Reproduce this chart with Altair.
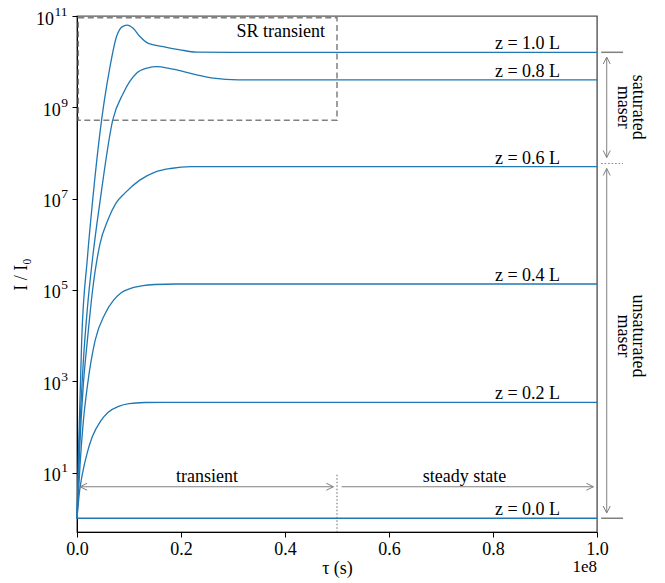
import altair as alt
import pandas as pd

FONT = "Liberation Serif"
BLUE = "#1f77b4"
GRAY = "#808080"

# ---- curves: tau in units of 1e8 s, log10(I / I0) ----
z_names = ["z = 0.0 L", "z = 0.2 L", "z = 0.4 L", "z = 0.6 L", "z = 0.8 L", "z = 1.0 L"]

tau_z00 = [0.0, 1.0]
log_z00 = [0.0, 0.0]

tau_z02 = [0.0, 0.005, 0.01, 0.02, 0.03, 0.045, 0.06, 0.08, 0.1, 0.13, 0.17, 1.0]
log_z02 = [0.0, 0.6, 0.95, 1.45, 1.8, 2.12, 2.32, 2.45, 2.51, 2.535, 2.54, 2.54]

tau_z04 = [0.0, 0.006, 0.012, 0.02, 0.035, 0.054, 0.07, 0.085, 0.102, 0.124, 0.15, 0.19, 1.0]
log_z04 = [0.0, 1.2, 2.1, 2.9, 3.9, 4.48, 4.77, 4.94, 5.03, 5.09, 5.12, 5.13, 5.13]

tau_z06 = [0.0, 0.005, 0.012, 0.02, 0.03, 0.044, 0.06, 0.075, 0.092, 0.12, 0.15, 0.18, 0.22, 1.0]
log_z06 = [0.0, 1.5, 2.9, 3.9, 5.0, 6.0, 6.55, 6.9, 7.12, 7.4, 7.58, 7.66, 7.7, 7.7]

tau_z08 = [0.0, 0.005, 0.012, 0.02, 0.03, 0.045, 0.0687, 0.089, 0.115, 0.135, 0.154,
           0.175, 0.192, 0.23, 0.262, 0.31, 1.0]
log_z08 = [0.0, 1.8, 3.4, 4.6, 5.7, 7.0, 8.72, 9.31, 9.75, 9.86, 9.89,
           9.86, 9.82, 9.71, 9.64, 9.60, 9.60]

tau_z10 = [0.0, 0.003, 0.009, 0.02, 0.03, 0.044, 0.0635, 0.076, 0.089, 0.097, 0.108,
           0.121, 0.137, 0.166, 0.198, 0.23, 0.3, 1.0]
log_z10 = [0.0, 1.5, 3.9, 5.7, 6.95, 8.43, 9.89, 10.55, 10.78, 10.80, 10.73,
           10.55, 10.40, 10.33, 10.26, 10.21, 10.205, 10.205]

plateau_log = [0.0, 2.54, 5.13, 7.70, 9.60, 10.205]

x_ticks = [0.0, 0.2, 0.4, 0.6, 0.8, 1.0]
y_ticks = [1e1, 1e3, 1e5, 1e7, 1e9, 1e11]
y_tick_exponents = ["1", "3", "5", "7", "9", "11"]

taus = [tau_z00, tau_z02, tau_z04, tau_z06, tau_z08, tau_z10]
logs = [log_z00, log_z02, log_z04, log_z06, log_z08, log_z10]

rows = []
for name, ts, ls in zip(z_names, taus, logs):
    for t, l in zip(ts, ls):
        rows.append({"z": name, "tau": t, "I": 10 ** l})
curves = pd.DataFrame(rows)

zlab = pd.DataFrame({"x": [0.929] * 6, "y": [10 ** p for p in plateau_log], "t": z_names})

xs = alt.Scale(domain=[0, 1], nice=False, zero=False)
ys = alt.Scale(type="log", domain=[0.5, 1e11], nice=False)

xaxis = alt.Axis(
    values=x_ticks, format=".1f", title="τ (s)", tickSize=5, labelPadding=3,
    titleY=36, titleBaseline="middle", grid=False, labelFlush=False,
    domainColor="black", tickColor="black", labelColor="black", titleColor="black",
    labelFontSize=18, titleFontSize=18, labelFont=FONT, titleFont=FONT,
    titleFontWeight="normal")
yaxis = alt.Axis(
    values=y_ticks, labels=False, title="I / I₀", tickSize=5,
    titleAngle=-90, titleX=-56, titleY=258, titleAlign="center", titleBaseline="middle",
    grid=False, domainColor="black", tickColor="black",
    titleColor="black", titleFontSize=18, titleFont=FONT, titleFontWeight="normal")


def X(f):
    return alt.X(f, scale=xs, axis=xaxis)


def Y(f):
    return alt.Y(f, scale=ys, axis=yaxis)


lines = alt.Chart(curves).mark_line(interpolate="monotone", color=BLUE, strokeWidth=1.3).encode(
    x=X("tau:Q"), y=Y("I:Q"), detail="z:N")

# y tick labels: "10" with a raised exponent
ylab_layers = []
EXP_SIZE = 13.5
for n in (1, 2):
    sub = pd.DataFrame({"v": [v for v, e in zip(y_ticks, y_tick_exponents) if len(e) == n],
                        "e": [e for e in y_tick_exponents if len(e) == n]})
    ex = -9 - 0.5 * EXP_SIZE * n
    ylab_layers.append(alt.Chart(sub).mark_text(
        align="right", baseline="alphabetic", dy=8.5, font=FONT, fontSize=18,
        color="black", text="10").encode(x=alt.value(ex - 0.5), y=Y("v:Q")))
    ylab_layers.append(alt.Chart(sub).mark_text(
        align="left", baseline="alphabetic", dy=-0.5, font=FONT, fontSize=EXP_SIZE,
        color="black").encode(x=alt.value(ex), y=Y("v:Q"), text="e:N"))

zlabels = alt.Chart(zlab).mark_text(align="right", baseline="alphabetic", dy=-3,
                                     font=FONT, fontSize=18, color="black").encode(
    x=X("x:Q"), y=Y("y:Q"), text="t:N")

# SR transient box
box = pd.DataFrame({"x": [0.0025], "x2": [0.5], "y": [5.2e8], "y2": [9.2e10]})
boxl = alt.Chart(box).mark_rect(fillOpacity=0, stroke=GRAY, strokeWidth=1.5,
                                strokeDash=[6, 3.5]).encode(
    x=X("x:Q"), x2="x2:Q", y=Y("y:Q"), y2="y2:Q")
srt = pd.DataFrame({"x": [0.477], "y": [3.5e10], "t": ["SR transient"]})
srl = alt.Chart(srt).mark_text(align="right", baseline="alphabetic", font=FONT,
                               fontSize=18, color="black").encode(
    x=X("x:Q"), y=Y("y:Q"), text="t:N")

# arrows (shafts)
arrow_y = 10 ** 0.69
arr_x = 1.0187
shafts = pd.DataFrame({
    "x1": [0.006, 0.509, arr_x, arr_x],
    "x2": [0.493, 0.993, arr_x, arr_x],
    "y1": [arrow_y, arrow_y, 10 ** 10.10, 10 ** 7.66],
    "y2": [arrow_y, arrow_y, 10 ** 7.90, 10 ** 0.115],
})
shaftl = alt.Chart(shafts).mark_rule(color=GRAY, strokeWidth=1).encode(
    x=X("x1:Q"), x2="x2:Q", y=Y("y1:Q"), y2="y2:Q")

LEFT = "M1,-0.5L0,0L1,0.5"
RIGHT = "M-1,-0.5L0,0L-1,0.5"
UP = "M-0.5,1L0,0L0.5,1"
DOWN = "M-0.5,-1L0,0L0.5,-1"
heads = pd.DataFrame({
    "x": [0.006, 0.493, 0.993, arr_x, arr_x, arr_x, arr_x],
    "y": [arrow_y, arrow_y, arrow_y, 10 ** 10.10, 10 ** 7.90, 10 ** 7.66, 10 ** 0.115],
    "s": [LEFT, RIGHT, RIGHT, UP, DOWN, UP, DOWN],
})
headl = alt.Chart(heads).mark_point(filled=False, size=196, stroke=GRAY, strokeWidth=1,
                                     opacity=1).encode(
    x=X("x:Q"), y=Y("y:Q"), shape=alt.Shape("s:N", scale=None))

# dotted separator at tau = 0.5
sep = pd.DataFrame({"x": [0.5], "y": [9.0], "y2": [0.5]})
sepl = alt.Chart(sep).mark_rule(color=GRAY, strokeWidth=1.2, strokeDash=[1.5, 2]).encode(
    x=X("x:Q"), y=Y("y:Q"), y2="y2:Q")

# right-side level markers
marks_solid = pd.DataFrame({"x": [1.008, 1.008], "x2": [1.05, 1.05], "y": [10 ** 10.205, 1.0]})
solidl = alt.Chart(marks_solid).mark_rule(color=GRAY, strokeWidth=1.5).encode(
    x=X("x:Q"), x2="x2:Q", y=Y("y:Q"))
marks_dot = pd.DataFrame({"x": [1.008], "x2": [1.05], "y": [10 ** 7.77]})
dotl = alt.Chart(marks_dot).mark_rule(color=GRAY, strokeWidth=1.2, strokeDash=[1.5, 2]).encode(
    x=X("x:Q"), x2="x2:Q", y=Y("y:Q"))

# phase texts
phase = pd.DataFrame({"x": [0.25, 0.745], "y": [arrow_y, arrow_y], "t": ["transient", "steady state"]})
phasel = alt.Chart(phase).mark_text(align="center", baseline="alphabetic", dy=-5, font=FONT,
                                    fontSize=18, color="black").encode(
    x=X("x:Q"), y=Y("y:Q"), text="t:N")

side = pd.DataFrame({"x": [1.078, 1.078], "y": [10 ** 9.0, 10 ** 3.99],
                     "t": ["saturated\nmaser", "unsaturated\nmaser"]})
sidel = alt.Chart(side).mark_text(angle=90, align="center", baseline="middle", lineBreak="\n",
                                  lineHeight=15, font=FONT, fontSize=18, color="black").encode(
    x=X("x:Q"), y=Y("y:Q"), text="t:N")

off = pd.DataFrame({"t": ["1e8"]})
offl = alt.Chart(off).mark_text(align="right", baseline="middle", font=FONT, fontSize=17,
                                color="black").encode(
    x=alt.value(520), y=alt.value(551), text="t:N")

chart = alt.layer(
    lines, *ylab_layers, zlabels, boxl, srl, shaftl, headl, sepl, solidl, dotl, phasel,
    sidel, offl
).properties(
    width=520, height=516,
    autosize=alt.AutoSizeParams(type="none"),
    padding={"left": 77, "top": 16, "right": 68, "bottom": 51},
).configure(
    background="white",
    view=alt.ViewConfig(stroke="#555555", strokeWidth=1.4),
)

chart.save("out.html", embed_options={"renderer": "svg", "actions": False})
